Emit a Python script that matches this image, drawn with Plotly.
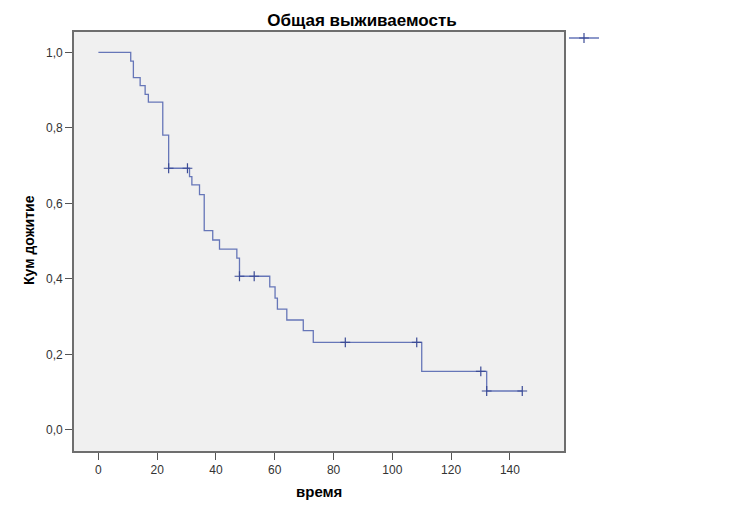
import plotly.graph_objects as go

# Kaplan-Meier: event times and survival after each event
event_time = [0, 11.0, 11.9, 14.2, 15.9, 17.0, 21.9, 23.9, 31.0, 31.8, 34.4, 36.0,
              38.9, 41.2, 47.1, 48.0, 58.3, 60.1, 60.9, 64.1, 69.7, 73.1, 110.0, 132.1]
survival = [1.0, 0.977, 0.933, 0.912, 0.889, 0.868, 0.781, 0.693, 0.671, 0.649, 0.623, 0.528,
            0.503, 0.479, 0.455, 0.407, 0.379, 0.349, 0.320, 0.291, 0.263, 0.232, 0.155, 0.103]

# censored observations
censor_time = [23.9, 30.3, 48.0, 53.0, 84.0, 108.3, 130.1, 132.1, 144.2]
censor_surv = [0.693, 0.693, 0.407, 0.407, 0.232, 0.232, 0.155, 0.103, 0.103]

x_ticks = [0, 20, 40, 60, 80, 100, 120, 140]
y_ticks = [0.0, 0.2, 0.4, 0.6, 0.8, 1.0]

# page body has an 8px margin, so the figure is a bit smaller than the window
W, H = 745, 504
L, R, T, B = 66, 189, 24, 61
plot_w = W - L - R
plot_h = H - T - B

line_x = event_time + [censor_time[-1]]
line_y = survival + [survival[-1]]

FONT = "Arial, Liberation Sans"
LINE_C, MARK_C = "#6676b8", "#3b4b96"

fig = go.Figure()
fig.add_trace(go.Scatter(x=line_x, y=line_y, mode="lines", line_shape="hv",
                         line=dict(color=LINE_C, width=1.3), showlegend=False))
fig.add_trace(go.Scatter(x=censor_time, y=censor_surv, mode="markers",
                         marker=dict(symbol="cross-thin", size=7,
                                     line=dict(color=MARK_C, width=1.2)),
                         showlegend=False))
# legend key only (the clipped legend at the top right)
fig.add_trace(go.Scatter(x=[None], y=[None], mode="lines+markers", name=" ",
                         line=dict(color=LINE_C, width=1.3),
                         marker=dict(symbol="cross-thin", size=7,
                                     line=dict(color=MARK_C, width=1.2))))

axis_common = dict(showline=True, linecolor="#6e6e6e", linewidth=1.6, mirror=True,
                   ticks="outside", ticklen=7, tickcolor="#555555", tickwidth=1.4,
                   showgrid=False, zeroline=False,
                   tickfont=dict(family=FONT, size=12, color="#333333"))

fig.update_layout(
    width=W, height=H,
    margin=dict(l=L, r=R, t=T, b=B, autoexpand=False),
    paper_bgcolor="white", plot_bgcolor="#f0f0f0",
    separators=", ",
    title=dict(text="<b>Общая выживаемость</b>", x=354 / W, xanchor="center",
               xref="container", y=1 - 12 / H, yanchor="middle",
               font=dict(family=FONT, size=17, color="black")),
    xaxis=dict(range=[-8.3, 158.4], tickvals=x_ticks, **axis_common),
    yaxis=dict(range=[-0.056, 1.054], tickvals=y_ticks, tickformat=".1f", **axis_common),
    showlegend=True,
    legend=dict(x=1.0, xanchor="left", y=1 - 6 / plot_h, yanchor="middle",
                bgcolor="rgba(0,0,0,0)", font=dict(size=4), itemwidth=30),
)

fig.add_annotation(text="<b>время</b>", x=0.5, xref="paper",
                   y=-(484 - (H - B)) / plot_h, yref="paper", showarrow=False,
                   xanchor="center", yanchor="middle",
                   font=dict(family=FONT, size=15, color="black"))
fig.add_annotation(text="<b>Кум дожитие</b>", x=-(L - 21) / plot_w, xref="paper",
                   y=(H - B - 232) / plot_h, yref="paper", textangle=-90,
                   showarrow=False, xanchor="center", yanchor="middle",
                   font=dict(family=FONT, size=14, color="black"))

fig.write_html("out.html")
